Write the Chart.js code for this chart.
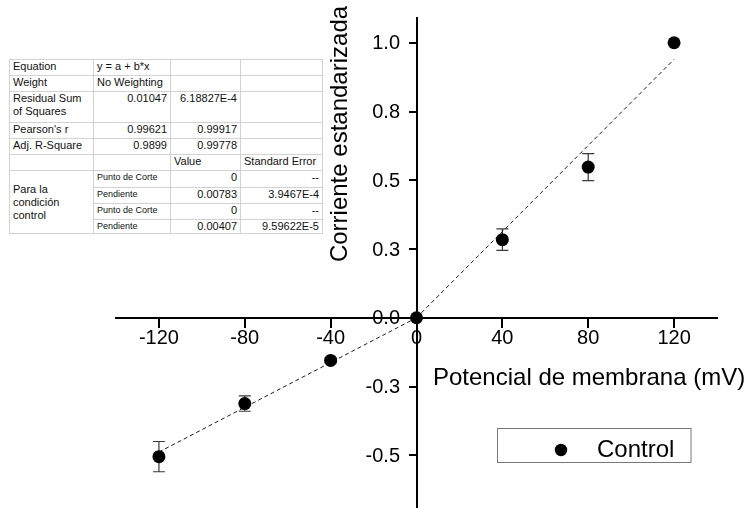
<!DOCTYPE html>
<html>
<head>
<meta charset="utf-8">
<title>Corriente estandarizada vs potencial de membrana</title>
<script src="https://cdn.jsdelivr.net/npm/chart.js@4"></script>
<style>
  html, body { margin: 0; padding: 0; background: #fff; }
  #wrap { position: relative; width: 752px; height: 508px; overflow: hidden; }
  #plot { position: absolute; left: 0; top: 0; }
  #fit {
    position: absolute; left: 9px; top: 59px;
    border-collapse: collapse; table-layout: fixed;
    font-family: "Liberation Sans", Arial, sans-serif; font-size: 11px; color: #111;
    border: 1px solid #8a8a8a; background: #fff;
  }
  #fit td {
    border: 1px solid #d2d2d2; padding: 0 3px; vertical-align: top;
    line-height: 13px; white-space: nowrap; overflow: hidden;
  }
  #fit td.num { text-align: right; }
  #fit td.small { font-size: 9px; }
  #fit td.mid { vertical-align: middle; white-space: normal; }
</style>
</head>
<body>
<div id="wrap">
  <canvas id="plot" width="752" height="514"></canvas>
  <table id="fit">
    <colgroup><col style="width:84px"><col style="width:77px"><col style="width:70px"><col style="width:82px"></colgroup>
    <tbody id="fitBody"></tbody>
  </table>
</div>
<script>
// Mean normalised current (± SEM) at each holding potential
const voltage    = [-120, -80, -40, 0, 40, 80, 120];
const current    = [-0.505, -0.312, -0.155, 0, 0.284, 0.548, 1.0];
const currentErr = [0.055, 0.028, 0.008, 0, 0.039, 0.049, 0];

// Axis ticks
const xTickValues = [-120, -80, -40, 0, 40, 80, 120];
const yTickValues = [-0.5, -0.25, 0, 0.25, 0.5, 0.75, 1.0];
const yTickLabels = ["-0.5", "-0.3", "0.0", "0.3", "0.5", "0.8", "1.0"];

// Linear fits y = a + b*x (positive branch, negative branch)
const fitRange     = [[0, 120], [-120, 0]];
const fitIntercept = [0, 0];
const fitSlope     = [0.00783, 0.00407];
const fitSlopeErr  = ["3.9467E-4", "9.59622E-5"];
const fitRSS       = ["0.01047", "6.18827E-4"];
const fitPearson   = ["0.99621", "0.99917"];
const fitAdjR2     = ["0.9899", "0.99778"];

const FONT = '"Liberation Sans", Arial, sans-serif';

// ---- fit summary table ----
(function buildTable() {
  const rows = [
    ['<td>Equation</td><td>y = a + b*x</td><td></td><td></td>', 16],
    ['<td>Weight</td><td>No Weighting</td><td></td><td></td>', 16],
    [`<td>Residual Sum<br>of Squares</td><td class="num">${fitRSS[0]}</td><td class="num">${fitRSS[1]}</td><td></td>`, 31],
    [`<td>Pearson's r</td><td class="num">${fitPearson[0]}</td><td class="num">${fitPearson[1]}</td><td></td>`, 16],
    [`<td>Adj. R-Square</td><td class="num">${fitAdjR2[0]}</td><td class="num">${fitAdjR2[1]}</td><td></td>`, 16],
    ['<td></td><td></td><td>Value</td><td>Standard Error</td>', 16],
    [`<td rowspan="4" class="mid">Para la<br>condición<br>control</td><td class="small">Punto de Corte</td><td class="num">${fitIntercept[0]}</td><td class="num">--</td>`, 17],
    [`<td class="small">Pendiente</td><td class="num">${fitSlope[0]}</td><td class="num">${fitSlopeErr[0]}</td>`, 16],
    [`<td class="small">Punto de Corte</td><td class="num">${fitIntercept[1]}</td><td class="num">--</td>`, 16],
    [`<td class="small">Pendiente</td><td class="num">${fitSlope[1]}</td><td class="num">${fitSlopeErr[1]}</td>`, 14]
  ];
  document.getElementById('fitBody').innerHTML =
    rows.map(([cells, h]) => `<tr style="height:${h}px">${cells}</tr>`).join('');
})();

// ---- error bars drawn under the markers ----
const errorBars = {
  id: 'errorBars',
  beforeDatasetsDraw(chart) {
    const { ctx, scales: { x, y } } = chart;
    ctx.save();
    ctx.strokeStyle = '#3a3a3a';
    ctx.lineWidth = 1.2;
    voltage.forEach((v, i) => {
      const e = currentErr[i];
      if (!e) return;
      const px = x.getPixelForValue(v);
      const top = y.getPixelForValue(current[i] + e);
      const bot = y.getPixelForValue(current[i] - e);
      ctx.beginPath();
      ctx.moveTo(px, top); ctx.lineTo(px, bot);
      ctx.moveTo(px - 6, top); ctx.lineTo(px + 6, top);
      ctx.moveTo(px - 6, bot); ctx.lineTo(px + 6, bot);
      ctx.stroke();
    });
    ctx.restore();
  }
};

// ---- y tick labels (left of the crossing axis), axis titles, boxed legend ----
const decorations = {
  id: 'decorations',
  beforeDatasetsDraw(chart) {
    const { ctx, scales: { x, y } } = chart;
    ctx.save();
    ctx.fillStyle = '#000';
    ctx.font = `20px ${FONT}`;
    ctx.textAlign = 'right';
    ctx.textBaseline = 'middle';
    const xAxisPx = x.getPixelForValue(0);
    yTickValues.forEach((v, i) => {
      ctx.fillText(yTickLabels[i], xAxisPx - 16.5, y.getPixelForValue(v) + 1);
    });
    ctx.restore();
  },
  afterDraw(chart) {
    const ctx = chart.ctx;
    ctx.save();
    ctx.fillStyle = '#000';
    ctx.font = `24px ${FONT}`;
    ctx.textAlign = 'left';
    ctx.textBaseline = 'alphabetic';
    ctx.fillText('Potencial de membrana (mV)', 433, 385);

    ctx.save();
    ctx.translate(347, 134);
    ctx.rotate(-Math.PI / 2);
    ctx.textAlign = 'center';
    ctx.fillText('Corriente estandarizada', 0, 0);
    ctx.restore();

    // legend
    ctx.strokeStyle = '#777';
    ctx.lineWidth = 1;
    ctx.strokeRect(497.5, 428.5, 193.5, 34);
    ctx.beginPath();
    ctx.arc(561, 450, 6.2, 0, Math.PI * 2);
    ctx.fill();
    ctx.textAlign = 'left';
    ctx.fillText(chart.data.datasets[0].label, 597, 457);
    ctx.restore();
  }
};

// axes cross inside the plot, so they should not claim any layout padding
const noScalePadding = s => { s.paddingTop = 0; s.paddingBottom = 0; s.paddingLeft = 0; s.paddingRight = 0; };

const fitDatasets = fitRange.map((r, i) => ({
  label: 'fit' + i,
  data: r.map(xv => ({ x: xv, y: fitIntercept[i] + fitSlope[i] * xv })),
  showLine: true,
  borderColor: '#1a1a1a',
  borderWidth: 1,
  borderDash: [4, 3],
  pointRadius: 0,
  fill: false,
  order: 1
}));

new Chart(document.getElementById('plot'), {
  type: 'scatter',
  data: {
    datasets: [
      {
        label: 'Control',
        data: voltage.map((v, i) => ({ x: v, y: current[i] })),
        backgroundColor: '#000',
        borderWidth: 0,
        pointRadius: 6.5,
        pointHoverRadius: 6.5,
        order: 0
      },
      ...fitDatasets
    ]
  },
  options: {
    responsive: false,
    animation: false,
    events: [],
    layout: { padding: { left: 116, right: 35, top: 18, bottom: 1 } },
    plugins: { legend: { display: false }, tooltip: { enabled: false } },
    scales: {
      x: {
        type: 'linear', min: -140, max: 140,
        position: { y: 0 },
        afterBuildTicks: s => { s.ticks = xTickValues.map(v => ({ value: v })); },
        afterFit: noScalePadding,
        ticks: {
          color: '#000', font: { size: 20, family: FONT }, padding: 0,
          maxRotation: 0, autoSkip: false, callback: v => String(v)
        },
        grid: { drawOnChartArea: false, drawTicks: true, tickLength: 9, lineWidth: 2, color: '#000' },
        border: { display: true, color: '#000', width: 2 }
      },
      y: {
        type: 'linear', min: -0.69, max: 1.09,
        position: { x: 0 },
        afterBuildTicks: s => { s.ticks = yTickValues.map(v => ({ value: v })); },
        afterFit: noScalePadding,
        ticks: { display: false },
        grid: { drawOnChartArea: false, drawTicks: true, tickLength: 7, lineWidth: 2, color: '#000' },
        border: { display: true, color: '#000', width: 2 }
      }
    }
  },
  plugins: [errorBars, decorations]
});
</script>
</body>
</html>
